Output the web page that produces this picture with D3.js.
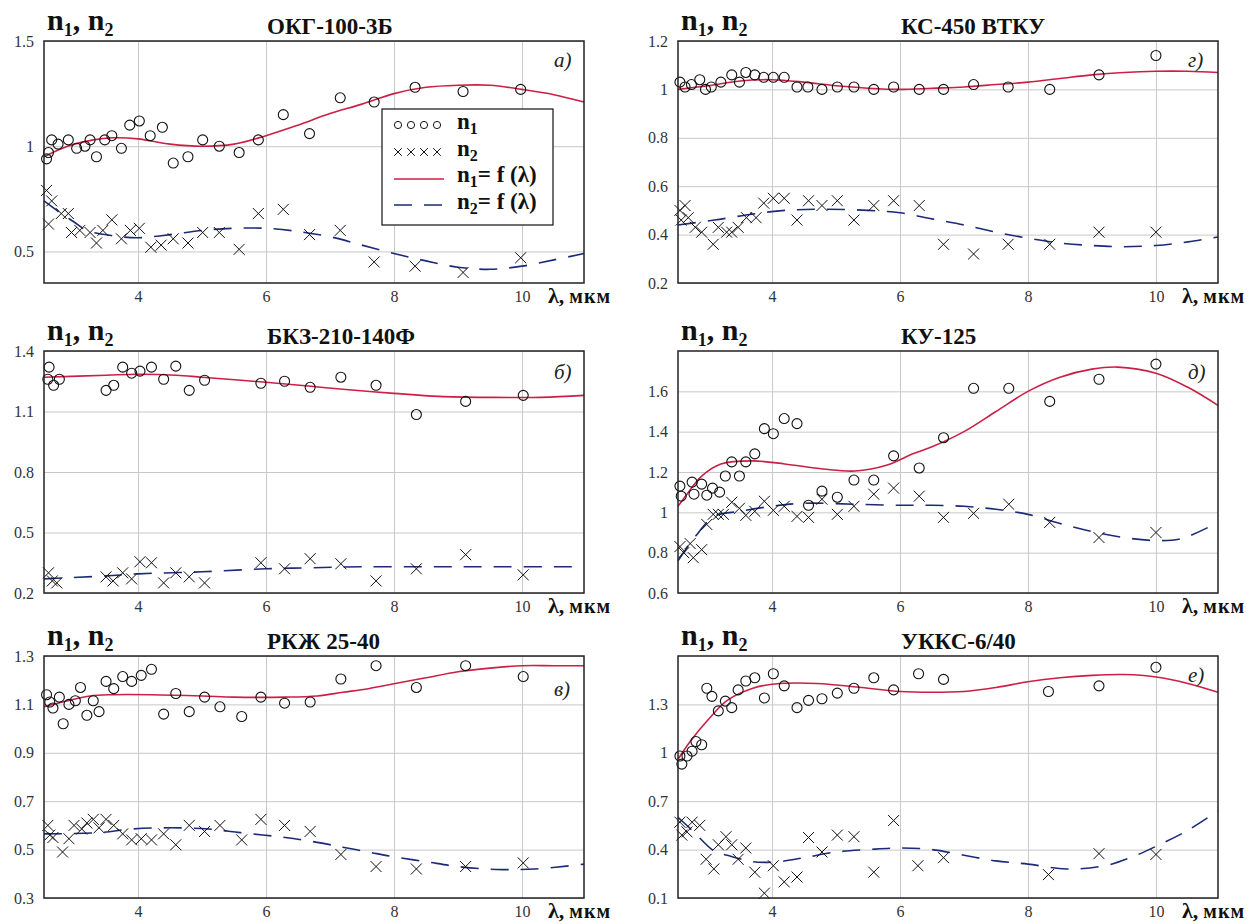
<!DOCTYPE html>
<html lang="ru">
<head>
<meta charset="UTF-8">
<title>n1, n2 = f(λ)</title>
<script src="https://d3js.org/d3.v7.min.js"></script>
<style>
  body { margin: 0; background: #fff; }
  svg { display: block; font-family: "Liberation Serif", "Times New Roman", serif; }
  svg text { font-family: "Liberation Serif", "Times New Roman", serif; }
  .tick text { fill: #333; font-size: 16px; }
  .grid line { stroke: #c8c8c8; }
</style>
</head>
<body>
<div id="chart"></div>
<script>
// --- data: [λ (мкм), n] ---

// а) ОКГ-100-3Б
const okgN1 = [[2.57,0.94],[2.6,0.97],[2.65,1.03],[2.75,1.01],[2.91,1.03],[3.04,0.99],[3.17,1.0],[3.25,1.03],[3.35,0.95],[3.48,1.03],[3.59,1.05],[3.74,0.99],[3.87,1.10],[4.02,1.12],[4.19,1.05],[4.38,1.09],[4.55,0.92],[4.78,0.95],[5.01,1.03],[5.27,1.0],[5.58,0.97],[5.88,1.03],[6.27,1.15],[6.68,1.06],[7.16,1.23],[7.69,1.21],[8.33,1.28],[9.08,1.26],[9.98,1.27]];
const okgN2 = [[2.57,0.79],[2.65,0.74],[2.6,0.63],[2.8,0.68],[2.91,0.68],[2.96,0.59],[3.09,0.60],[3.25,0.59],[3.35,0.54],[3.45,0.60],[3.59,0.65],[3.74,0.56],[3.88,0.60],[4.02,0.61],[4.2,0.52],[4.36,0.53],[4.55,0.56],[4.78,0.54],[5.01,0.59],[5.27,0.59],[5.58,0.51],[5.88,0.68],[6.27,0.70],[6.68,0.58],[7.16,0.60],[7.69,0.45],[8.33,0.43],[9.08,0.40],[9.98,0.47]];
const okgFit1 = [[2.53,0.95],[2.9,1.0],[3.3,1.03],[3.6,1.04],[4.0,1.035],[4.5,1.01],[5.0,1.0],[5.5,1.01],[6.0,1.05],[6.5,1.10],[7.0,1.155],[7.5,1.20],[8.0,1.25],[8.5,1.28],[9.0,1.29],[9.5,1.29],[10.0,1.27],[10.5,1.245],[10.97,1.21]];
const okgFit2 = [[2.53,0.74],[2.8,0.68],[3.0,0.64],[3.2,0.60],[3.6,0.575],[4.0,0.565],[4.5,0.58],[5.0,0.60],[5.5,0.61],[6.0,0.61],[6.5,0.595],[7.0,0.57],[7.5,0.53],[8.0,0.49],[8.5,0.455],[9.0,0.425],[9.5,0.415],[10.0,0.43],[10.5,0.46],[10.97,0.49]];

// г) КС-450 ВТКУ
const ksN1 = [[2.56,1.03],[2.64,1.01],[2.74,1.02],[2.87,1.04],[2.96,1.0],[3.05,1.01],[3.2,1.03],[3.37,1.06],[3.49,1.03],[3.59,1.07],[3.73,1.06],[3.87,1.05],[4.02,1.05],[4.19,1.05],[4.39,1.01],[4.56,1.01],[4.78,1.0],[5.02,1.01],[5.28,1.01],[5.59,1.0],[5.9,1.01],[6.3,1.0],[6.68,1.0],[7.15,1.02],[7.69,1.01],[8.34,1.0],[9.11,1.06],[10.0,1.14]];
const ksN2 = [[2.56,0.50],[2.58,0.46],[2.64,0.52],[2.69,0.47],[2.8,0.43],[2.9,0.41],[3.08,0.36],[3.16,0.43],[3.29,0.41],[3.37,0.41],[3.47,0.43],[3.6,0.47],[3.75,0.47],[3.87,0.53],[4.02,0.55],[4.19,0.55],[4.39,0.46],[4.57,0.54],[4.78,0.52],[5.02,0.54],[5.28,0.46],[5.59,0.52],[5.9,0.54],[6.3,0.52],[6.68,0.36],[7.15,0.32],[7.69,0.36],[8.34,0.36],[9.11,0.41],[10.0,0.41]];
const ksFit1 = [[2.53,1.0],[3.0,1.015],[3.5,1.035],[4.0,1.04],[4.5,1.03],[5.0,1.015],[5.5,1.005],[6.0,1.0],[6.5,1.005],[7.0,1.01],[7.5,1.02],[8.0,1.03],[8.5,1.045],[9.0,1.06],[9.5,1.07],[10.0,1.075],[10.5,1.075],[10.97,1.07]];
const ksFit2 = [[2.53,0.44],[3.1,0.46],[3.7,0.485],[4.2,0.50],[4.8,0.505],[5.5,0.50],[6.0,0.49],[6.5,0.465],[7.0,0.44],[7.5,0.41],[8.0,0.385],[8.5,0.365],[9.0,0.355],[9.5,0.35],[10.0,0.355],[10.5,0.37],[10.97,0.39]];

// б) БКЗ-210-140Ф
const bkzN1 = [[2.59,1.26],[2.61,1.32],[2.68,1.23],[2.77,1.26],[3.5,1.205],[3.62,1.23],[3.76,1.32],[3.9,1.29],[4.03,1.30],[4.21,1.32],[4.4,1.26],[4.59,1.325],[4.8,1.205],[5.04,1.255],[5.92,1.24],[6.29,1.25],[6.69,1.22],[7.17,1.27],[7.72,1.23],[8.35,1.085],[9.12,1.15],[10.02,1.18]];
const bkzN2 = [[2.6,0.30],[2.66,0.26],[2.73,0.25],[3.5,0.28],[3.61,0.26],[3.76,0.30],[3.9,0.27],[4.03,0.355],[4.21,0.35],[4.4,0.25],[4.59,0.30],[4.8,0.28],[5.04,0.25],[5.92,0.35],[6.29,0.32],[6.69,0.37],[7.17,0.345],[7.72,0.26],[8.35,0.32],[9.12,0.39],[10.02,0.29]];
const bkzFit1 = [[2.53,1.27],[3.5,1.28],[4.0,1.285],[4.6,1.28],[5.0,1.27],[6.0,1.245],[6.7,1.225],[7.2,1.21],[8.0,1.19],[8.7,1.175],[9.5,1.17],[10.3,1.17],[10.97,1.18]];
const bkzFit2 = [[2.53,0.27],[3.5,0.285],[4.0,0.295],[5.0,0.305],[6.0,0.32],[6.7,0.325],[7.5,0.33],[8.5,0.33],[9.5,0.33],[10.97,0.33]];

// д) КУ-125
const kuN1 = [[2.56,1.13],[2.58,1.08],[2.75,1.15],[2.78,1.09],[2.9,1.14],[2.98,1.085],[3.07,1.12],[3.18,1.10],[3.27,1.18],[3.37,1.25],[3.49,1.18],[3.59,1.25],[3.73,1.29],[3.88,1.415],[4.02,1.39],[4.19,1.465],[4.39,1.44],[4.57,1.035],[4.78,1.105],[5.02,1.075],[5.28,1.16],[5.59,1.16],[5.9,1.28],[6.3,1.22],[6.68,1.37],[7.15,1.615],[7.7,1.615],[8.34,1.55],[9.11,1.66],[10.0,1.735]];
const kuN2 = [[2.56,0.83],[2.62,0.80],[2.72,0.845],[2.77,0.775],[2.9,0.815],[2.98,0.94],[3.08,0.99],[3.16,0.99],[3.24,0.99],[3.37,1.05],[3.49,1.02],[3.59,0.985],[3.73,1.005],[3.88,1.055],[4.02,1.01],[4.19,1.03],[4.39,0.98],[4.57,0.975],[4.78,1.065],[5.02,0.99],[5.28,1.03],[5.59,1.09],[5.9,1.12],[6.3,1.08],[6.68,0.975],[7.15,0.995],[7.7,1.04],[8.34,0.95],[9.11,0.875],[10.0,0.90]];
const kuFit1 = [[2.53,1.03],[2.67,1.09],[2.9,1.18],[3.2,1.24],[3.7,1.255],[4.2,1.24],[4.8,1.215],[5.3,1.205],[5.8,1.235],[6.2,1.29],[6.5,1.325],[7.0,1.40],[7.5,1.50],[8.0,1.60],[8.5,1.67],[9.0,1.71],[9.4,1.72],[10.0,1.69],[10.5,1.62],[10.97,1.53]];
const kuFit2 = [[2.53,0.76],[2.8,0.88],[3.1,0.98],[3.5,1.005],[4.0,1.03],[4.5,1.045],[5.3,1.04],[6.0,1.035],[6.5,1.035],[7.0,1.03],[7.5,1.015],[8.0,0.99],[8.5,0.945],[9.0,0.905],[9.5,0.875],[10.0,0.86],[10.4,0.87],[10.97,0.95]];

// в) РКЖ 25-40
const rkzN1 = [[2.57,1.14],[2.62,1.11],[2.67,1.085],[2.77,1.13],[2.83,1.02],[2.92,1.10],[3.02,1.115],[3.1,1.17],[3.2,1.055],[3.3,1.115],[3.39,1.07],[3.5,1.195],[3.62,1.165],[3.76,1.215],[3.9,1.195],[4.05,1.22],[4.21,1.245],[4.4,1.06],[4.59,1.145],[4.8,1.07],[5.04,1.13],[5.28,1.09],[5.62,1.05],[5.92,1.13],[6.29,1.105],[6.69,1.11],[7.17,1.205],[7.72,1.26],[8.35,1.17],[9.12,1.26],[10.02,1.215]];
const rkzN2 = [[2.59,0.60],[2.62,0.56],[2.67,0.55],[2.82,0.49],[2.92,0.545],[3.0,0.60],[3.12,0.585],[3.2,0.61],[3.3,0.625],[3.39,0.59],[3.5,0.625],[3.62,0.60],[3.76,0.565],[3.9,0.54],[4.05,0.545],[4.21,0.54],[4.4,0.565],[4.59,0.52],[4.8,0.60],[5.04,0.575],[5.28,0.60],[5.62,0.54],[5.92,0.625],[6.29,0.60],[6.69,0.575],[7.17,0.48],[7.72,0.43],[8.35,0.42],[9.12,0.43],[10.02,0.445]];
const rkzFit1 = [[2.53,1.09],[2.9,1.115],[3.25,1.135],[3.6,1.14],[4.2,1.14],[5.0,1.135],[5.5,1.13],[6.3,1.13],[6.8,1.135],[7.2,1.15],[7.6,1.165],[8.0,1.185],[8.5,1.21],[9.0,1.235],[9.5,1.25],[10.0,1.26],[10.5,1.26],[10.97,1.26]];
const rkzFit2 = [[2.53,0.565],[3.4,0.57],[3.9,0.585],[4.5,0.59],[5.1,0.585],[5.6,0.57],[6.3,0.55],[6.8,0.53],[7.2,0.51],[7.6,0.49],[8.0,0.47],[8.5,0.45],[9.0,0.43],[9.6,0.418],[10.2,0.42],[10.97,0.44]];

// е) УККС-6/40
const ukksN1 = [[2.56,0.98],[2.59,0.93],[2.67,0.98],[2.75,1.01],[2.81,1.07],[2.9,1.05],[2.98,1.40],[3.06,1.35],[3.16,1.26],[3.27,1.32],[3.37,1.28],[3.47,1.39],[3.59,1.445],[3.73,1.465],[3.88,1.34],[4.02,1.49],[4.19,1.415],[4.39,1.28],[4.57,1.325],[4.78,1.335],[5.02,1.37],[5.28,1.40],[5.59,1.465],[5.9,1.39],[6.29,1.49],[6.68,1.455],[8.32,1.38],[9.11,1.415],[10.0,1.53]];
const ukksN2 = [[2.56,0.57],[2.59,0.49],[2.67,0.51],[2.75,0.57],[2.87,0.55],[2.97,0.34],[3.09,0.28],[3.16,0.43],[3.28,0.48],[3.37,0.43],[3.47,0.34],[3.59,0.41],[3.73,0.26],[3.88,0.13],[4.02,0.30],[4.19,0.20],[4.39,0.23],[4.57,0.475],[4.78,0.385],[5.02,0.49],[5.28,0.48],[5.59,0.26],[5.9,0.58],[6.28,0.30],[6.68,0.35],[8.32,0.245],[9.11,0.375],[10.0,0.37]];
const ukksFit1 = [[2.53,0.96],[2.72,1.07],[3.0,1.205],[3.3,1.325],[3.7,1.40],[4.0,1.425],[4.7,1.43],[5.4,1.405],[6.0,1.38],[6.5,1.375],[7.0,1.38],[7.5,1.405],[8.0,1.44],[8.5,1.465],[9.0,1.48],[9.5,1.485],[10.0,1.47],[10.5,1.43],[10.97,1.375]];
const ukksFit2 = [[2.53,0.60],[2.75,0.52],[3.1,0.39],[3.3,0.365],[3.7,0.325],[4.1,0.325],[4.5,0.35],[5.0,0.385],[5.5,0.40],[6.0,0.41],[6.5,0.40],[7.0,0.365],[7.5,0.33],[8.0,0.31],[8.6,0.28],[9.2,0.30],[9.6,0.35],[10.0,0.42],[10.5,0.52],[10.97,0.64]];

const xDomain = [2.53, 10.97];
const xTicks = [4, 6, 8, 10];

// panel list: name, letter, y range and ticks
const panels = [
  { title: "ОКГ-100-3Б",   letter: "а)", col: 0, row: 0, yDomain: [0.35, 1.5], yTicks: [0.5, 1, 1.5],
    n1: okgN1, n2: okgN2, fit1: okgFit1, fit2: okgFit2, letterDy: 26, legend: true },
  { title: "КС-450 ВТКУ",  letter: "г)", col: 1, row: 0, yDomain: [0.2, 1.2], yTicks: [0.2, 0.4, 0.6, 0.8, 1, 1.2],
    n1: ksN1, n2: ksN2, fit1: ksFit1, fit2: ksFit2, letterDy: 26 },
  { title: "БКЗ-210-140Ф", letter: "б)", col: 0, row: 1, yDomain: [0.2, 1.4], yTicks: [0.2, 0.5, 0.8, 1.1, 1.4],
    n1: bkzN1, n2: bkzN2, fit1: bkzFit1, fit2: bkzFit2, letterDy: 28 },
  { title: "КУ-125",       letter: "д)", col: 1, row: 1, yDomain: [0.6, 1.8], yTicks: [0.6, 0.8, 1, 1.2, 1.4, 1.6],
    n1: kuN1, n2: kuN2, fit1: kuFit1, fit2: kuFit2, letterDy: 28 },
  { title: "РКЖ 25-40",    letter: "в)", col: 0, row: 2, yDomain: [0.3, 1.3], yTicks: [0.3, 0.5, 0.7, 0.9, 1.1, 1.3],
    n1: rkzN1, n2: rkzN2, fit1: rkzFit1, fit2: rkzFit2, letterDy: 40 },
  { title: "УККС-6/40",    letter: "е)", col: 1, row: 2, yDomain: [0.1, 1.6], yTicks: [0.1, 0.4, 0.7, 1, 1.3],
    n1: ukksN1, n2: ukksN2, fit1: ukksFit1, fit2: ukksFit2, letterDy: 26 }
];

const W = 1253, H = 924;
const colLeft = [44, 678];
const rowTop = [41, 351, 656];
const plotW = 540, plotH = 242;
const red = "#cc1f45", blue = "#1c2a78";
const serif = '"Liberation Serif", "Times New Roman", serif';

const svg = d3.select("#chart").append("svg")
  .attr("width", W).attr("height", H);

// write "n1, n2" style text with subscripts
function subText(sel, parts, big, small, shift) {
  parts.forEach(p => {
    sel.append("tspan").attr("font-size", p.sub ? small : big)
      .attr("dy", p.sub ? shift : (p.back ? -shift : 0))
      .text(p.t);
  });
}

function cross(g, x, y, s) {
  g.append("path")
    .attr("d", `M${x - s},${y - s}L${x + s},${y + s}M${x - s},${y + s}L${x + s},${y - s}`)
    .attr("stroke", "#111").attr("stroke-width", 1).attr("fill", "none");
}

panels.forEach(p => {
  const left = colLeft[p.col], top = rowTop[p.row];
  const g = svg.append("g").attr("transform", `translate(${left},${top})`);

  const x = d3.scaleLinear().domain(xDomain).range([0, plotW]);
  const y = d3.scaleLinear().domain(p.yDomain).range([plotH, 0]);

  // grid
  g.append("g").attr("class", "grid")
    .call(d3.axisBottom(x).tickValues(xTicks).tickSize(plotH).tickFormat(""))
    .call(a => a.select(".domain").remove());
  g.append("g").attr("class", "grid")
    .call(d3.axisLeft(y).tickValues(p.yTicks).tickSize(-plotW).tickFormat(""))
    .call(a => a.select(".domain").remove());

  // tick labels
  g.append("g").attr("transform", `translate(0,${plotH})`)
    .call(d3.axisBottom(x).tickValues(xTicks).tickSize(0).tickPadding(8).tickFormat(d => String(d)))
    .call(a => a.select(".domain").remove())
    .attr("font-family", serif)
    .selectAll("text").style("font-family", serif);
  g.append("g")
    .call(d3.axisLeft(y).tickValues(p.yTicks).tickSize(0).tickPadding(10).tickFormat(d => String(d)))
    .call(a => a.select(".domain").remove())
    .attr("font-family", serif)
    .selectAll("text").style("font-family", serif);

  // fitted curves
  const line = d3.line().x(d => x(d[0])).y(d => y(d[1])).curve(d3.curveCatmullRom);
  g.append("path").datum(p.fit1).attr("d", line)
    .attr("fill", "none").attr("stroke", red).attr("stroke-width", 1.6);
  g.append("path").datum(p.fit2).attr("d", line)
    .attr("fill", "none").attr("stroke", blue).attr("stroke-width", 1.6)
    .attr("stroke-dasharray", "18,12");

  // measured points
  g.selectAll(".c").data(p.n1).enter().append("circle")
    .attr("cx", d => x(d[0])).attr("cy", d => y(d[1])).attr("r", 5)
    .attr("fill", "none").attr("stroke", "#111").attr("stroke-width", 1.1);
  p.n2.forEach(d => cross(g, x(d[0]), y(d[1]), 5.5));

  // frame
  g.append("rect").attr("width", plotW).attr("height", plotH)
    .attr("fill", "none").attr("stroke", "#222").attr("stroke-width", 1.5);

  // y header
  subText(g.append("text").attr("x", 3).attr("y", -11).attr("font-weight", "bold").attr("fill", "#111"),
    [{ t: "n" }, { t: "1", sub: true }, { t: ", n", back: true }, { t: "2", sub: true }], 30, 18, 6);

  // title
  g.append("text").attr("x", 223).attr("y", -7).attr("font-size", 23).attr("font-weight", "bold")
    .attr("fill", "#111").text(p.title);

  // panel letter
  g.append("text").attr("x", plotW - 30).attr("y", p.letterDy).attr("font-size", 21)
    .attr("font-style", "italic").attr("fill", "#222").text(p.letter);

  // x axis label
  const xl = g.append("text").attr("x", 504).attr("y", plotH + 20).attr("font-weight", "bold").attr("fill", "#111");
  xl.append("tspan").attr("font-size", 22).text("λ,");
  xl.append("tspan").attr("font-size", 20).attr("dx", 5).attr("letter-spacing", 1).text("мкм");

  if (p.legend) {
    const lg = g.append("g").attr("transform", "translate(338,68)");
    lg.append("rect").attr("width", 171).attr("height", 116)
      .attr("fill", "#fff").attr("stroke", "#111").attr("stroke-width", 1.2);
    const sx = [16, 29, 42, 55];
    sx.forEach(sxi => lg.append("circle").attr("cx", sxi).attr("cy", 16).attr("r", 3.6)
      .attr("fill", "none").attr("stroke", "#111").attr("stroke-width", 1));
    sx.forEach(sxi => cross(lg, sxi, 43, 3.8));
    lg.append("line").attr("x1", 12).attr("x2", 62).attr("y1", 70).attr("y2", 70)
      .attr("stroke", red).attr("stroke-width", 1.6);
    lg.append("line").attr("x1", 12).attr("x2", 62).attr("y1", 96).attr("y2", 96)
      .attr("stroke", blue).attr("stroke-width", 1.6).attr("stroke-dasharray", "18,12");
    const rows = [
      [{ t: "n" }, { t: "1", sub: true }],
      [{ t: "n" }, { t: "2", sub: true }],
      [{ t: "n" }, { t: "1", sub: true }, { t: "= f (λ)", back: true }],
      [{ t: "n" }, { t: "2", sub: true }, { t: "= f (λ)", back: true }]
    ];
    rows.forEach((r, i) => {
      subText(lg.append("text").attr("x", 75).attr("y", 20 + i * 26.5)
        .attr("font-weight", "bold").attr("fill", "#111"), r, 23, 16, 5);
    });
  }
});
</script>
</body>
</html>
